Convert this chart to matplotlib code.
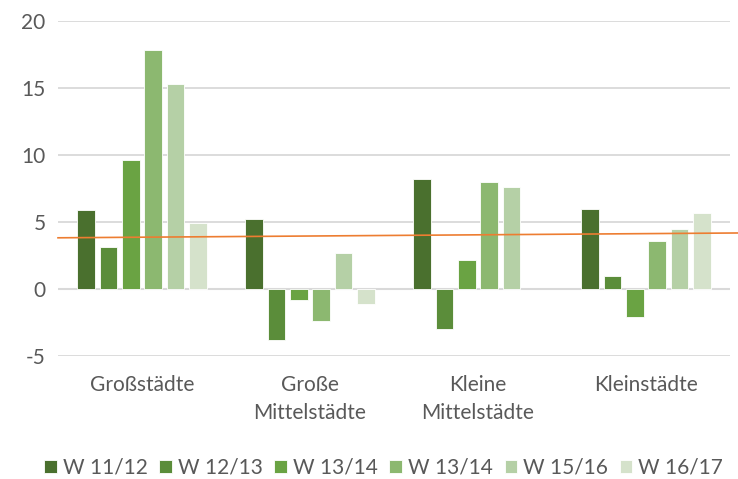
import matplotlib.pyplot as plt
import numpy as np

categories = ["Großstädte", "Große\nMittelstädte", "Kleine\nMittelstädte", "Kleinstädte"]
series_names = ["W 11/12", "W 12/13", "W 13/14", "W 13/14", "W 15/16", "W 16/17"]
w1112 = [5.9, 5.2, 8.2, 6.0]
w1213 = [3.1, -3.8, -3.0, 1.0]
w1314 = [9.6, -0.8, 2.2, -2.1]
w1314b = [17.8, -2.4, 8.0, 3.6]
w1516 = [15.3, 2.7, 7.6, 4.5]
w1617 = [4.9, -1.1, np.nan, 5.7]
trend_ends = [3.82, 4.18]

colors = ["#4a702e", "#5b8d3a", "#6aa343", "#8cb870", "#b5d0a6", "#d5e2cb"]
text_color = "#595959"

plt.rcParams["font.family"] = ["Lato", "DejaVu Sans"]
plt.rcParams["axes.unicode_minus"] = False

fig = plt.figure(figsize=(7.38, 4.79), dpi=100)
ax = fig.add_axes([0.0786, 0.2568, 0.9105, 0.6994])

x = np.arange(len(categories))
step = 0.133
width = 0.104
all_series = [w1112, w1213, w1314, w1314b, w1516, w1617]
for i, (vals, name, c) in enumerate(zip(all_series, series_names, colors)):
    ax.bar(x + (i - 2.5) * step, vals, width, color=c, label=name,
           edgecolor="white", linewidth=0.6, zorder=3)

ax.plot([-0.5, 3.55], trend_ends, color="#ed7d31", linewidth=1.2, zorder=4, clip_on=False)

ax.set_xlim(-0.5, 3.5)
ax.set_ylim(-5, 20)
ax.set_yticks([-5, 0, 5, 10, 15, 20])
ax.yaxis.grid(True, color="#d9d9d9", linewidth=1.3, zorder=0)
ax.set_axisbelow(True)
for s in ax.spines.values():
    s.set_visible(False)
ax.axhline(0, color="#d9d9d9", linewidth=1.5, zorder=1)

ax.set_xticks(x)
ax.set_xticklabels(categories, fontsize=15, color=text_color, linespacing=1.5, va="top")
ax.tick_params(axis="x", length=0, pad=14)
ax.tick_params(axis="y", length=0, pad=9, labelsize=15, labelcolor=text_color)

fig.legend(loc="center", bbox_to_anchor=(0.52, 0.024), ncol=6, frameon=False,
           fontsize=15, handlelength=0.6, handleheight=0.6, handletextpad=0.3,
           columnspacing=0.55, labelcolor=text_color, borderpad=0)

fig.savefig("out.png", dpi=100)
